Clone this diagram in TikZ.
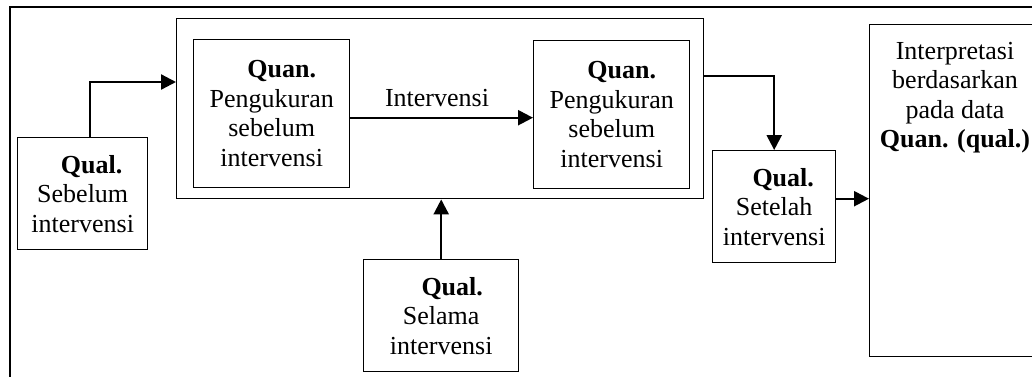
\documentclass[tikz,border=0pt]{standalone}
\usepackage{fontspec}
\setmainfont{Liberation Serif}
\usetikzlibrary{arrows.meta}
\begin{document}
\begin{tikzpicture}[x=1pt,y=-1pt,
  txt/.style={inner sep=0pt,align=center,font=\fontsize{26}{29.5}\selectfont},
  box/.style={txt,draw,line width=1.4pt,anchor=north west},
  arr/.style={line width=2.3pt,-{Triangle[length=15pt,width=15pt]}}]
\useasboundingbox (0,0) rectangle (1032,376);
\clip (0,0) rectangle (1032,376);
\draw[line width=1.1pt] (10,7) rectangle (1060,400);
\node[box,minimum width=527pt,minimum height=180pt] (cont) at (176,18) {};
\node[box,minimum width=156pt,minimum height=148pt] (b1) at (193,39)
  {\hspace*{20pt}\textbf{Quan.}\\Pengukuran\\sebelum\\intervensi};
\node[box,minimum width=156pt,minimum height=148pt] (b2) at (533,40)
  {\hspace*{20pt}\textbf{Quan.}\\Pengukuran\\sebelum\\intervensi};
\node[box,minimum width=130pt,minimum height=112pt] (seb) at (17,137)
  {\hspace*{18pt}\textbf{Qual.}\\Sebelum\\intervensi};
\node[box,minimum width=155pt,minimum height=112pt] (sel) at (363,259)
  {\hspace*{22pt}\textbf{Qual.}\\Selama\\intervensi};
\node[box,minimum width=123pt,minimum height=112pt] (set) at (712,150)
  {\hspace*{18pt}\textbf{Qual.}\\Setelah\\intervensi};
\node[box,minimum width=172pt,minimum height=332pt] (interp) at (869,24) {};
\node[txt,anchor=north] (interpt) at (955,42)
  {Interpretasi\\berdasarkan\\pada data\\\textbf{Quan. (qual.)}};
\node[txt,anchor=base] (lbl) at (437,106) {Intervensi};
\draw[arr] ([xshift=7pt]seb.north) |- (cont.west |- 0,82);
\draw[arr] ([yshift=-4pt]b1.east) -- ([yshift=-4pt]b1.east -| b2.west);
\draw[arr] (sel.north) -- (sel.north |- cont.south);
\draw[arr] (cont.east |- 0,76) -| (set.north);
\draw[arr] ([yshift=8pt]set.east) -- ([yshift=8pt]set.east -| interp.west);
\end{tikzpicture}
\end{document}
